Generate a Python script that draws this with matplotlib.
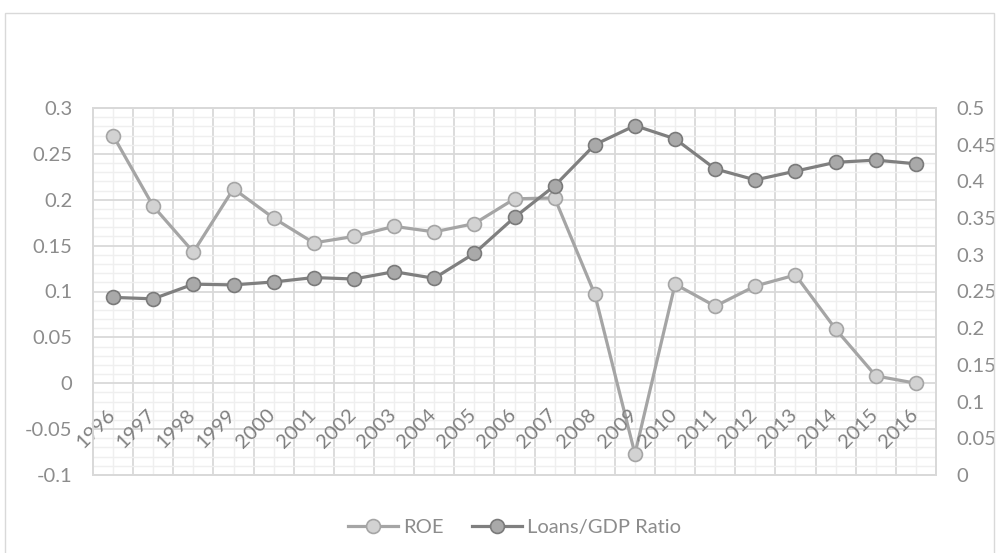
import matplotlib
matplotlib.use("Agg")
import matplotlib.pyplot as plt
import matplotlib.transforms as mtransforms
from matplotlib.patches import Rectangle
from matplotlib.ticker import MultipleLocator, FixedLocator
import numpy as np

years = ["1996", "1997", "1998", "1999", "2000", "2001", "2002", "2003", "2004", "2005",
         "2006", "2007", "2008", "2009", "2010", "2011", "2012", "2013", "2014", "2015", "2016"]
roe = [0.270, 0.193, 0.143, 0.212, 0.180, 0.153, 0.160, 0.171, 0.165, 0.174,
       0.201, 0.202, 0.097, -0.077, 0.108, 0.084, 0.106, 0.118, 0.059, 0.008, 0.000]
loans_gdp = [0.242, 0.240, 0.260, 0.259, 0.263, 0.269, 0.267, 0.277, 0.268, 0.302,
             0.351, 0.394, 0.450, 0.476, 0.458, 0.417, 0.402, 0.414, 0.426, 0.429, 0.424]
left_ticks = [-0.1, -0.05, 0, 0.05, 0.1, 0.15, 0.2, 0.25, 0.3]
left_labels = ["-0.1", "-0.05", "0", "0.05", "0.1", "0.15", "0.2", "0.25", "0.3"]
right_ticks = [0, 0.05, 0.1, 0.15, 0.2, 0.25, 0.3, 0.35, 0.4, 0.45, 0.5]
right_labels = ["0", "0.05", "0.1", "0.15", "0.2", "0.25", "0.3", "0.35", "0.4", "0.45", "0.5"]

FONT = ["Lato", "DejaVu Sans"]
plt.rcParams['font.family'] = FONT
TXT = "#8c8c8c"
MAJ = "#d9d9d9"
MIN = "#efefef"
FS = 14.5

fig = plt.figure(figsize=(10, 5.53), dpi=100)
fig.patches.append(Rectangle((5/1000, -0.1), 989/1000, 1 - 13/553 + 0.1,
                             transform=fig.transFigure, fill=False,
                             edgecolor="#d9d9d9", linewidth=1.0))

ax = fig.add_axes([0.093, 1 - 475/553, 0.936 - 0.093, (475 - 108)/553])
ax2 = ax.twinx()

n = len(years)
x = np.arange(n)
ax.set_xlim(-0.5, n - 0.5)
ax.set_ylim(-0.1, 0.3)
ax2.set_ylim(0, 0.5)

# gridlines
ax.xaxis.set_major_locator(FixedLocator(np.arange(n + 1) - 0.5))
ax.xaxis.set_minor_locator(FixedLocator(x))
ax.yaxis.set_major_locator(FixedLocator(left_ticks))
ax.yaxis.set_minor_locator(MultipleLocator(0.01))
ax.grid(which="minor", color=MIN, linewidth=1.0, zorder=0)
ax.grid(which="major", color=MAJ, linewidth=1.3, zorder=0)
ax.set_axisbelow(True)
ax.tick_params(axis="x", which="both", length=0, labelbottom=False)
ax.tick_params(axis="y", which="both", length=0, pad=15, labelsize=FS, labelcolor=TXT)
ax.set_yticklabels(left_labels)

ax2.yaxis.set_major_locator(FixedLocator(right_ticks))
ax2.set_yticklabels(right_labels)
ax2.tick_params(axis="y", which="both", length=0, pad=15, labelsize=FS, labelcolor=TXT)

for a in (ax, ax2):
    for s in a.spines.values():
        s.set_color(MAJ)
        s.set_linewidth(1.3)

# category labels along value 0
trans = mtransforms.offset_copy(ax.transData, fig=fig, x=5, y=-23, units='dots')
for i, yl in enumerate(years):
    ax.text(i, 0, yl, rotation=45, ha="right", va="top", color="#808080",
            fontsize=FS, transform=trans, zorder=5)

l1, = ax.plot(x, roe, color="#a5a5a5", linewidth=2.3, marker="o", markersize=10,
              markerfacecolor="#d2d2d2", markeredgecolor="#a5a5a5", markeredgewidth=1.2,
              label="ROE", zorder=3)
l2, = ax2.plot(x, loans_gdp, color="#7f7f7f", linewidth=2.3, marker="o", markersize=10,
               markerfacecolor="#a9a9a9", markeredgecolor="#7a7a7a", markeredgewidth=1.2,
               label="Loans/GDP Ratio", zorder=3)

fig.legend([l1, l2], ["ROE", "Loans/GDP Ratio"], loc="center",
           bbox_to_anchor=(0.5145, 1 - 527/553), ncol=2, frameon=False,
           fontsize=FS, labelcolor=TXT, handlelength=2.5, columnspacing=1.4,
           handletextpad=0.25)

fig.savefig("out.png", dpi=100)
